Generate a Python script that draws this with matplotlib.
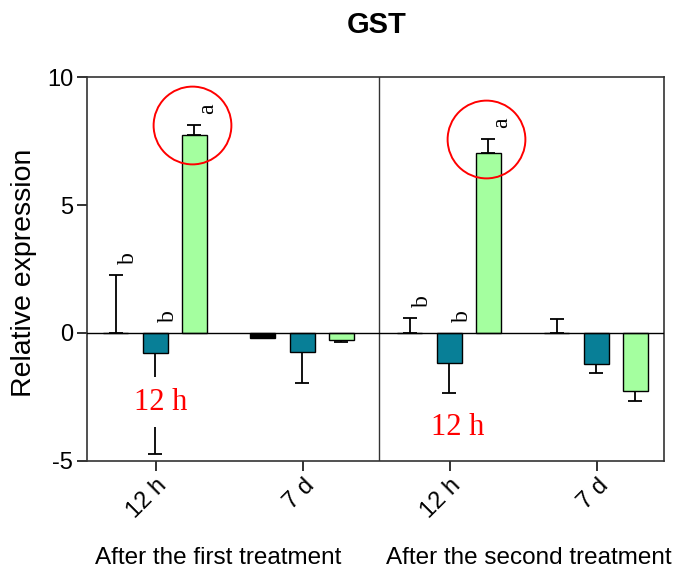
import matplotlib
matplotlib.use('Agg')
import matplotlib.pyplot as plt
import numpy as np

plt.rcParams['font.family'] = ['Liberation Sans', 'DejaVu Sans']

# sampling times, two per treatment
times = ['12 h', '7 d', '12 h', '7 d']
treatments = ['After the first treatment', 'After the second treatment']

# three series per time point (means and one-sided SD)
ctrl_mean = [0.0, -0.2, 0.0, 0.0]
ctrl_err = [2.27, 0.0, 0.58, 0.56]
ctrl_sig = ['b', '', 'b', '']

teal_mean = [-0.78, -0.74, -1.17, -1.2]
teal_err = [3.95, 1.21, 1.17, 0.37]
teal_sig = ['b', '', 'b', '']

green_mean = [7.73, -0.27, 7.03, -2.26]
green_err = [0.39, 0.08, 0.55, 0.39]
green_sig = ['a', '', 'a', '']

series = [
    (ctrl_mean, ctrl_err, ctrl_sig, 'black'),
    (teal_mean, teal_err, teal_sig, '#087f97'),
    (green_mean, green_err, green_sig, '#a4ff9f'),
]

fig = plt.figure(figsize=(6.75, 5.73), dpi=100)
ax = fig.add_axes([0.1289, 0.1955, 0.8548, 0.6701])

x = np.arange(len(times))
offsets = [-0.275, -0.005, 0.26]
width = 0.17
serif = ['Liberation Serif', 'DejaVu Serif']

for (mean, err, sig, col), off in zip(series, offsets):
    mean = np.array(mean)
    err = np.array(err)
    xs = x + off
    ax.bar(xs, mean, width, color=col, edgecolor='black', linewidth=1.0, zorder=3)
    # error bars only point away from zero
    lower = np.where(mean < 0, err, 0)
    upper = np.where(mean >= 0, err, 0)
    ax.errorbar(xs, mean, yerr=[lower, upper], fmt='none', ecolor='black',
                elinewidth=1.3, capsize=4.7, capthick=1.3, zorder=2)
    for xi, m, e, s in zip(xs, mean, err, sig):
        if not s:
            continue
        top = m + e if m >= 0 else 0
        ax.text(xi + 0.09, top + 0.65, s, rotation=90, ha='center', va='center',
                fontsize=17, family=serif, zorder=5)

# highlight the strongest responses
for i in (0, 2):
    ax.plot(x[i] + offsets[2] - 0.015, green_mean[i] + green_err[i], 'o', ms=56,
            mfc='none', mec='red', mew=1.4, zorder=6)

# red time notes boxed in white over the error bars
ax.text(0.03, -2.7, '12 h', color='red', fontsize=22, family=serif, ha='center',
        va='center', zorder=7,
        bbox=dict(boxstyle='square,pad=0.35', fc='white', ec='none'))
ax.text(2.05, -3.7, '12 h', color='red', fontsize=22, family=serif, ha='center',
        va='center', zorder=7,
        bbox=dict(boxstyle='square,pad=0.1', fc='white', ec='none'))

ax.axhline(0, color='black', lw=1.0, zorder=4)
ax.axvline(1.52, color='#333333', lw=1.0, zorder=1)

ax.set_xlim(-0.469, 3.456)
ax.set_ylim(-5, 10)
ax.set_yticks([-5, 0, 5, 10])
ax.set_yticklabels(['-5', '0', '5', '10'])
ax.set_xticks(x)
ax.set_xticklabels(times, rotation=45, ha='right', va='top', rotation_mode='anchor')
ax.tick_params(axis='both', direction='out', length=7, width=1.3, labelsize=17,
               color='#222222', pad=3)
for sp in ax.spines.values():
    sp.set_color('#333333')
    sp.set_linewidth(1.2)

ax.set_ylabel('Relative expression', fontsize=20.5)
ax.yaxis.set_label_coords(-0.087, 0.49)

fig.text(377 / 675, 1 - 25 / 573, 'GST', fontsize=21, fontweight='bold',
         ha='center', va='center')
fig.text(218 / 675, 1 - 558 / 573, treatments[0], fontsize=17.5, ha='center', va='center')
fig.text(529 / 675, 1 - 558 / 573, treatments[1], fontsize=17.5, ha='center', va='center')

fig.savefig('out.png', dpi=100)
